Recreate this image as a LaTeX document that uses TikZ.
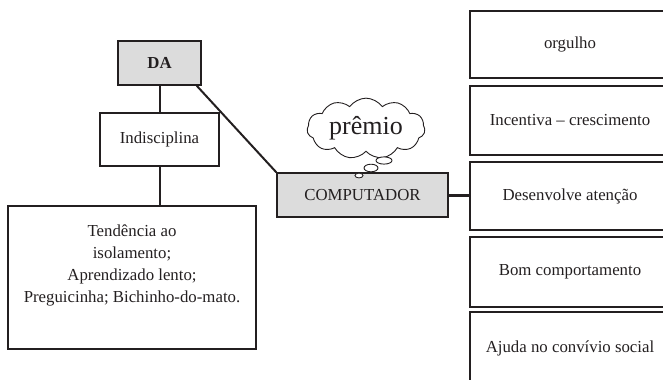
\documentclass[tikz,border=0pt]{standalone}
\usepackage{fontspec}
\setmainfont{Liberation Serif}
\usetikzlibrary{shapes.symbols,calc}
\definecolor{boxgray}{RGB}{220,220,220}
\definecolor{ink}{RGB}{35,31,32}
\tikzset{
  box/.style={draw=ink,line width=1.4bp,rectangle,inner sep=0pt,
    font=\fontsize{16.8bp}{22bp}\selectfont,text=ink},
  graybox/.style={box,fill=boxgray},
  conn/.style={draw=ink,line width=2bp},
  thickconn/.style={draw=ink,line width=3bp},
  plain/.style={inner sep=0pt,font=\fontsize{16.8bp}{22bp}\selectfont,text=ink,align=center},
  thought/.style={draw=ink,line width=0.9bp,cloud,cloud puffs=11,cloud puff arc=110,
    aspect=2.2,minimum width=118bp,minimum height=53bp,inner sep=0pt,
    font=\fontsize{26bp}{30bp}\selectfont,text=ink},
  bubble/.style={draw=ink,line width=0.9bp,fill=white}
}
\begin{document}
\begin{tikzpicture}[x=1bp,y=-1bp]
\useasboundingbox (0,0) rectangle (663,379);
\clip (0,0) rectangle (663,379);
% left branch
\node[graybox,minimum width=83bp,minimum height=44bp,font=\fontsize{16.8bp}{22bp}\selectfont\bfseries] (DA) at (159.5,63) {DA};
\node[box,minimum width=119bp,minimum height=53bp] (ind) at (159.5,139.5) {Indisciplina};
\node[box,minimum width=248bp,minimum height=143bp] (big) at (132,277.5) {};
\node[plain] (bigtext) at (132,265) {Tendência ao\\isolamento;\\Aprendizado lento;\\Preguicinha; Bichinho-do-mato.};
% center
\node[graybox,minimum width=171bp,minimum height=44bp] (comp) at (362.5,195) {COMPUTADOR};
\node[thought] (cloud) at (366,128.5) {prêmio};
\draw[bubble] (384,160.5) ellipse (8 and 3.6);
\draw[bubble] (371,168) ellipse (7 and 3.8);
\draw[bubble] (359,175.5) ellipse (4 and 2.4);
% right column
\node[box,minimum width=200bp,minimum height=67bp] (r1) at (570,44.5) {orgulho};
\node[box,minimum width=200bp,minimum height=69bp] (r2) at (570,120.5) {Incentiva – crescimento};
\node[box,minimum width=200bp,minimum height=68bp] (r3) at (570,196) {Desenvolve atenção};
\node[box,minimum width=200bp,minimum height=70bp] (r4) at (570,272) {Bom comportamento};
\node[box,minimum width=200bp,minimum height=72bp] (r5) at (570,348) {Ajuda no convívio social};
% connectors
\draw[conn] (DA.south) -- (ind.north);
\draw[conn] (ind.south) -- (ind.south |- big.north);
\draw[conn] ($(DA.south east)+(-5,0)$) -- (comp.north west);
\draw[thickconn] (comp.east) -- (comp.east -| r3.west);
\end{tikzpicture}
\end{document}
